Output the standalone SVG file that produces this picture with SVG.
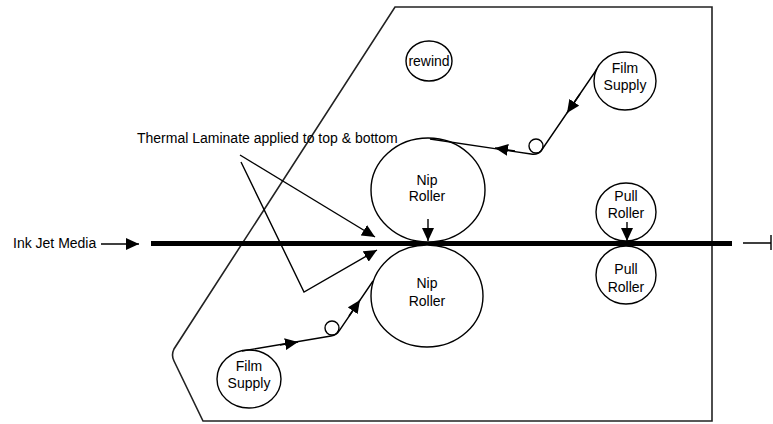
<svg xmlns="http://www.w3.org/2000/svg" width="773" height="424" viewBox="0 0 773 424">
<defs>
<style>
.t{font-family:"Liberation Sans",Arial,sans-serif;font-size:14px;fill:#000;text-anchor:middle}
.tl{font-family:"Liberation Sans",Arial,sans-serif;font-size:14px;fill:#000}
.n{fill:#fff;stroke:#000;stroke-width:1.4}
.c{fill:none;stroke:#000;stroke-width:1.4}
.ca{fill:none;stroke:#000;stroke-width:1.4;marker-end:url(#ah)}
</style>
<marker id="ah" markerUnits="userSpaceOnUse" markerWidth="14" markerHeight="12" viewBox="0 0 14 12" refX="13" refY="6" orient="auto">
<path d="M0,0 L13,6 L0,12 Z" fill="#000"/>
</marker>
</defs>
<rect width="773" height="424" fill="#fff"/>
<g id="frame">
<path d="M395,7 H712 V421 H203 L174,361 Q171,355 174,349 Z" fill="none" stroke="#222" stroke-width="1.6"/>
</g>
<g id="media">
<line x1="151" y1="243.5" x2="732" y2="243.5" stroke="#000" stroke-width="5"/>
</g>
<g id="rewind">
<ellipse class="n" cx="429" cy="61" rx="23" ry="20"/>
<text class="t" x="429" y="66">rewind</text>
</g>
<g id="film-supply-top">
<ellipse class="n" cx="625" cy="81" rx="31" ry="29"/>
<text class="t" x="625" y="73">Film</text>
<text class="t" x="625" y="90">Supply</text>
</g>
<g id="idler-top"><circle class="n" cx="536" cy="146" r="7"/></g>
<g id="idler-bottom"><circle class="n" cx="332" cy="328" r="7"/></g>
<g id="nip-top">
<ellipse class="n" cx="428" cy="190" rx="57" ry="52"/>
<text class="t" x="427" y="185">Nip</text>
<text class="t" x="427" y="201">Roller</text>
</g>
<g id="nip-bottom">
<ellipse class="n" cx="427" cy="296" rx="56" ry="51"/>
<text class="t" x="427" y="288">Nip</text>
<text class="t" x="427" y="306">Roller</text>
</g>
<g id="pull-top">
<ellipse class="n" cx="626" cy="212" rx="30" ry="29"/>
<text class="t" x="626" y="201">Pull</text>
<text class="t" x="626" y="218">Roller</text>
</g>
<g id="pull-bottom">
<ellipse class="n" cx="626" cy="275" rx="30" ry="29"/>
<text class="t" x="626" y="274">Pull</text>
<text class="t" x="626" y="292">Roller</text>
</g>
<g id="film-supply-bottom">
<ellipse class="n" cx="249" cy="379" rx="32" ry="29"/>
<text class="t" x="249" y="371">Film</text>
<text class="t" x="249" y="388">Supply</text>
</g>
<g id="labels">
<text class="tl" x="137" y="143">Thermal Laminate applied to top &amp; bottom</text>
<text class="tl" x="13" y="248">Ink Jet Media</text>
</g>
<g id="connectors">
<path class="c" d="M597,69 L541,151 Q538,155 531,154 L430,139"/>
<path class="ca" d="M580,94 L567,113"/>
<path class="ca" d="M515,151 L495,148"/>
<path class="c" d="M242,351 L331,336 Q337,335 339,331 L373,281"/>
<path class="ca" d="M280,345 L298,342"/>
<path class="ca" d="M349,316 L360,300"/>
<path class="ca" d="M240,155 L375,237"/>
<path class="ca" d="M241,162 L304,292 L377,250"/>
<path class="ca" d="M428,219 L428,241"/>
<path class="ca" d="M627,222 L627,241"/>
<path class="ca" d="M101,244 L139,244"/>
<path class="c" d="M743,243 H771 M771,235 V250"/>
</g>
</svg>
